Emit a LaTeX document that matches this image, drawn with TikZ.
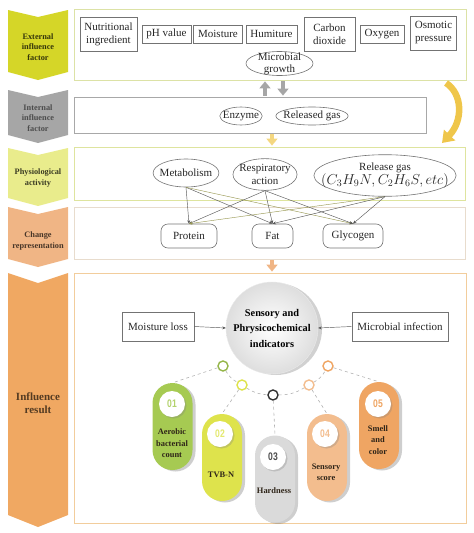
\documentclass[tikz,border=0pt]{standalone}
\usepackage{fontspec}
\setmainfont{Liberation Serif}
\newfontfamily\numfont[FakeStretch=0.78]{Liberation Sans}
\usepackage{tikz}
\usetikzlibrary{shapes.geometric, arrows.meta, shadows}

\definecolor{extc}{HTML}{D5D628}
\definecolor{intc}{HTML}{A6A6A6}
\definecolor{phyc}{HTML}{E9EC8C}
\definecolor{chgc}{HTML}{F0B585}
\definecolor{resc}{HTML}{F0A862}
\definecolor{extb}{HTML}{DCE2A6}
\definecolor{intb}{HTML}{A8A8A8}
\definecolor{phyb}{HTML}{DEE49E}
\definecolor{chgb}{HTML}{E8DCCD}
\definecolor{resb}{HTML}{F2CD9C}
\definecolor{pgreen}{HTML}{A6CA52}
\definecolor{pyellow}{HTML}{DEE34C}
\definecolor{pgray}{HTML}{DADADA}
\definecolor{plorange}{HTML}{F3BD8E}
\definecolor{porange}{HTML}{EFA563}
\definecolor{gold}{HTML}{EFC64A}
\definecolor{olive}{HTML}{9A9A55}
\definecolor{txtdark}{HTML}{2E2418}

\newcommand\factorfont{\fontsize{11}{13}\selectfont}
\newcommand\sidefont{\fontsize{8.3}{10.5}\selectfont\bfseries}
\newcommand\pillfont{\fontsize{8.4}{11.5}\selectfont\bfseries}

\begin{document}
\begin{tikzpicture}[x=1pt, y=-1pt,
  panel/.style={draw, line width=0.8pt, inner sep=0pt, minimum width=392pt},
  factor/.style={draw=black!55, line width=0.6pt, align=center, inner xsep=4.5pt, inner ysep=2pt, minimum height=18pt, font=\factorfont, text=black!85},
  tall/.style={minimum height=34pt},
  oval/.style={draw=black!55, line width=0.6pt, ellipse, align=center, inner xsep=-3pt, inner ysep=1pt, font=\factorfont, text=black!85},
  part/.style={draw=black!55, line width=0.6pt, rounded corners=7pt, minimum height=24pt, font=\factorfont, text=black!85},
  link/.style={black!65, line width=0.45pt, -{Stealth[length=3.5pt,width=3pt]}},
  bigarrow/.style={line width=4pt, -{Triangle[width=11pt,length=7pt]}, shorten <=1pt, shorten >=1pt},
  side/.style={font=\sidefont, align=center},
  pill/.style={rounded corners=20pt, minimum width=40pt, minimum height=87pt, inner sep=0pt, drop shadow={shadow xshift=3pt, shadow yshift=-1.5pt, fill=black!55, opacity=.35}},
  num/.style={circle, fill=white, minimum size=26pt, inner sep=0pt, font=\numfont\bfseries\fontsize{11}{11}\selectfont, drop shadow={shadow xshift=1.5pt, shadow yshift=-1.5pt, fill=black!50, opacity=.3}},
  ptext/.style={font=\pillfont, align=center, text=txtdark},
  dot/.style={circle, draw, fill=white, line width=1.4pt, minimum size=10pt, inner sep=0pt},
  dashlink/.style={dashed, black!30, line width=0.6pt}
]
\useasboundingbox (0,0) rectangle (474,533);

% chevrons on the left
\fill[extc] (8,10) -- (38,17) -- (68,10) -- (68,72) -- (38,80) -- (8,72) -- cycle;
\fill[intc] (8,90) -- (38,97) -- (68,90) -- (68,135) -- (38,143) -- (8,135) -- cycle;
\fill[phyc] (8,148) -- (38,155) -- (68,148) -- (68,198) -- (38,206) -- (8,198) -- cycle;
\fill[chgc] (8,207) -- (38,214) -- (68,207) -- (68,259) -- (38,267) -- (8,259) -- cycle;
\fill[resc] (8,273) -- (38,283) -- (68,273) -- (68,515) -- (38,527) -- (8,515) -- cycle;
\node[side, text=black!75!extc] (s1) at (38,47) {External\\influence\\factor};
\node[side, text=black!70] (s2) at (38,118) {Internal\\influence\\factor};
\node[side, text=black!75!phyc] (s3) at (38,178) {Physiological\\activity};
\node[side, text=black!70!chgc] (s4) at (38,241) {Change\\representation};
\node[side, font=\fontsize{11}{13}\selectfont\bfseries, text=black!65!resc] (s5) at (38,403.5) {Influence\\result};

% panels
\node[panel, draw=extb, minimum height=71pt] (ext) at (270,44.5) {};
\node[panel, draw=intb, minimum width=352pt, minimum height=36pt] (int) at (250,115) {};
\node[panel, draw=phyb, minimum width=391pt, minimum height=53pt] (phy) at (269.5,173.5) {};
\node[panel, draw=chgb, minimum width=391pt, minimum height=52pt] (chg) at (269.5,233) {};
\node[panel, draw=resb, minimum height=250pt] (res) at (270,398) {};

% external influence factor
\node[factor, tall] (nut) at (108.5,34) {Nutritional\\ingredient};
\node[factor] (ph) at (166.5,34) {pH value};
\node[factor] (moi) at (218,34) {Moisture};
\node[factor] (hum) at (271.5,34) {Humiture};
\node[factor, tall, minimum width=51pt] (co2) at (329.5,34) {Carbon\\dioxide};
\node[factor] (oxy) at (382,34) {Oxygen};
\node[factor, tall] (osm) at (433.5,33) {Osmotic\\pressure};
\node[oval, inner xsep=2pt, inner ysep=-6pt, minimum height=24pt, font=\fontsize{11}{12}\selectfont] (mic) at (279.5,63.5) {Microbial\\growth};

% internal influence factor
\node[oval, minimum height=18pt] (enz) at (241,116) {Enzyme};
\node[oval, minimum height=18pt] (gas) at (312,116) {Released gas};

\draw[bigarrow, intc] ([xshift=15pt]int.north) -- ([xshift=-5pt]ext.south);
\draw[bigarrow, intc] ([xshift=13pt]ext.south) -- ([xshift=33pt]int.north);
\draw[bigarrow, gold!70] ([xshift=22pt]int.south) -- ([xshift=2.5pt]phy.north);
\draw[bigarrow, chgc] ([xshift=2.5pt]chg.south) -- ([xshift=2pt]res.north);

% yellow turning arrow
\coordinate (g1) at (446,83);
\coordinate (g2) at (442,143);
\draw[gold, line width=6.5pt, -{Triangle[width=15pt,length=11pt]}] (g1) .. controls (463,94) and (463,121) .. (g2);

% physiological activity
\node[oval, minimum height=28pt] (met) at (186,173) {Metabolism};
\node[oval] (resp) at (265,174.5) {Respiratory\\action};
\node[oval, inner xsep=-13.5pt, inner ysep=2.5pt] (rel) at (385,175.5) {Release gas\\[-1pt]{\fontsize{14}{16}\selectfont$(C_3H_9N, C_2H_6S, etc)$}};

% change representation
\node[part, minimum width=56pt] (pro) at (189,236) {Protein};
\node[part, minimum width=41pt] (fat) at (272.5,236) {Fat};
\node[part, minimum width=60pt] (gly) at (353,236) {Glycogen};

\draw[link] (met.south) -- (pro.north);
\draw[link] (met.south) -- (fat.north);
\draw[link, olive] (met.south) -- (gly.north);
\draw[link] (resp.south) -- (pro.north);
\draw[link] (resp.south) -- (fat.north);
\draw[link] (resp.south) -- (gly.north);
\draw[link, olive] (rel.south) -- (pro.north);
\draw[link] (rel.south) -- (fat.north);
\draw[link] (rel.south) -- (gly.north);

% influence result
\node[circle, minimum size=92pt, inner sep=0pt, draw=black!8, inner color=white, outer color=black!13, align=center, font=\fontsize{10.3}{15.5}\selectfont\bfseries, drop shadow={shadow xshift=4pt, shadow yshift=-1pt, fill=black!40, opacity=.45}] (ind) at (272,328) {Sensory and\\Phrysicochemical\\indicators};
\node[factor, minimum height=29pt, minimum width=72pt] (loss) at (158,326.5) {Moisture loss};
\node[factor, minimum height=29pt, minimum width=96pt] (inf) at (400,326.5) {Microbial infection};
\draw[link] (loss.east) -- (ind.west);
\draw[link] (inf.west) -- (ind.east);

\node[dot, draw=pgreen!90!black] (sc1) at (223,366) {};
\node[dot, draw=pyellow] (sc2) at (242,385) {};
\node[dot, draw=black!80] (sc3) at (273,395) {};
\node[dot, draw=plorange] (sc4) at (309,385) {};
\node[dot, draw=porange] (sc5) at (328,366) {};
\draw[dashlink] (sc1) to[bend right=15] (sc2);
\draw[dashlink] (sc2) to[bend right=15] (sc3);
\draw[dashlink] (sc3) to[bend right=15] (sc4);
\draw[dashlink] (sc4) to[bend right=15] (sc5);

\node[pill, fill=pgreen] (p1) at (172.5,426.5) {};
\node[pill, fill=pyellow] (p2) at (222,457.5) {};
\node[pill, fill=pgray] (p3) at (275,479) {};
\node[pill, fill=plorange] (p4) at (327,457.5) {};
\node[pill, fill=porange] (p5) at (379,425.5) {};

\draw[dashlink] (sc1) -- (p1.north);
\draw[dashlink] (sc2) -- (p2.north);
\draw[dashlink] (sc3) -- (p3.north);
\draw[dashlink] (sc4) -- (p4.north);
\draw[dashlink] (sc5) -- (p5.north);

\node[num, text=pgreen!85!white] (n1) at (172,404) {01};
\node[num, text=pyellow!80!white] (n2) at (220,434) {02};
\node[num, text=black!70] (n3) at (273,457) {03};
\node[num, text=plorange] (n4) at (325,434) {04};
\node[num, text=porange] (n5) at (378,404) {05};

\node[ptext] (t1) at (172,443.5) {Aerobic\\bacterial\\count};
\node[ptext] (t2) at (221,475) {TVB-N};
\node[ptext] (t3) at (274,491) {Hardness};
\node[ptext] (t4) at (326,472.5) {Sensory\\score};
\node[ptext] (t5) at (378,440) {Smell\\and\\color};
\end{tikzpicture}
\end{document}
